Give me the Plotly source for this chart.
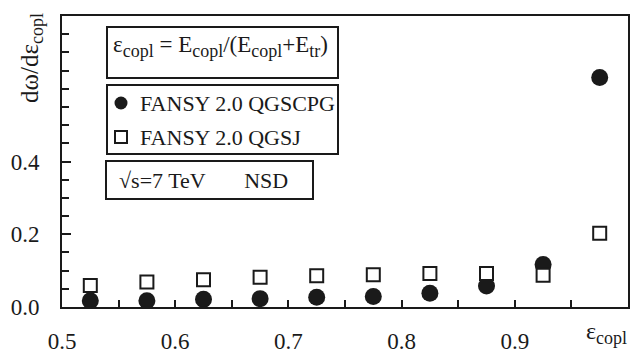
import plotly.graph_objects as go

# Coplanarity parameter bins and model predictions
eps_copl = [0.525, 0.575, 0.625, 0.675, 0.725, 0.775, 0.825, 0.875, 0.925, 0.975]
qgscpg = [0.017, 0.017, 0.021, 0.023, 0.027, 0.029, 0.038, 0.058, 0.117, 0.631]
qgsj = [0.059, 0.069, 0.075, 0.082, 0.086, 0.089, 0.092, 0.092, 0.087, 0.203]

x_ticks = [0.5, 0.6, 0.7, 0.8, 0.9]
x_ticktext = ["0.5", "0.6", "0.7", "0.8", "0.9"]
y_ticks = [0.0, 0.2, 0.4]
y_ticktext = ["0.0", "0.2", "0.4"]

W, H = 634, 353
L, R, T, B = 62, 6, 16, 46
PW, PH = W - L - R, H - T - B
FONT = "Liberation Serif"
INK = "#1a1a1a"


def px(x):
    return (x - L) / PW


def py(y):
    return (H - B - y) / PH


def sub(s, size=18):
    return f"<sub><span style='font-size:{size}px'>{s}</span></sub>"


fig = go.Figure()
fig.add_trace(go.Scatter(
    x=eps_copl, y=qgscpg, mode="markers", name="FANSY 2.0 QGSCPG",
    marker=dict(symbol="circle", size=17, color=INK, line=dict(width=0)),
))
fig.add_trace(go.Scatter(
    x=eps_copl, y=qgsj, mode="markers", name="FANSY 2.0 QGSJ",
    marker=dict(symbol="square", size=13, color="white", line=dict(width=2, color=INK)),
))

shapes = []
# framed text boxes
for x0, y0, x1, y1 in [(107, 27, 338, 78), (107, 85, 338, 154), (106, 161, 313, 199)]:
    shapes.append(dict(type="rect", xref="paper", yref="paper",
                       x0=px(x0), x1=px(x1), y0=py(y1), y1=py(y0),
                       line=dict(color=INK, width=2), fillcolor="white", layer="above"))
# legend symbols
shapes.append(dict(type="circle", xref="paper", yref="paper", xsizemode="pixel", ysizemode="pixel",
                   xanchor=px(121), yanchor=py(103), x0=-6.5, x1=6.5, y0=-6.5, y1=6.5,
                   fillcolor=INK, line=dict(width=0), layer="above"))
shapes.append(dict(type="rect", xref="paper", yref="paper", xsizemode="pixel", ysizemode="pixel",
                   xanchor=px(121), yanchor=py(137), x0=-6, x1=6, y0=-6, y1=6,
                   fillcolor="white", line=dict(width=2, color=INK), layer="above"))

txt = dict(family=FONT, size=22, color=INK)
annotations = [
    dict(x=px(111), y=py(47), xref="paper", yref="paper", xanchor="left", yanchor="middle",
         text=f"ε{sub('copl')} = E{sub('copl')}/(E{sub('copl')}+E{sub('tr')})",
         showarrow=False, font=dict(family=FONT, size=23, color=INK)),
    dict(x=px(138), y=py(103), xref="paper", yref="paper", xanchor="left", yanchor="middle",
         text="FANSY 2.0 QGSCPG", showarrow=False, font=txt),
    dict(x=px(138), y=py(137), xref="paper", yref="paper", xanchor="left", yanchor="middle",
         text="FANSY 2.0 QGSJ", showarrow=False, font=txt),
    dict(x=px(117), y=py(180), xref="paper", yref="paper", xanchor="left", yanchor="middle",
         text="√s=7 TeV" + "\u00a0" * 7 + "NSD", showarrow=False, font=txt),
    dict(x=px(606), y=py(333), xref="paper", yref="paper", xanchor="center", yanchor="middle",
         text=f"ε{sub('copl')}", showarrow=False, font=dict(family=FONT, size=24, color=INK)),
    dict(x=px(31), y=py(58), xref="paper", yref="paper", xanchor="center", yanchor="middle",
         text=f"dω/dε{sub('copl')}", textangle=-90, showarrow=False,
         font=dict(family=FONT, size=25, color=INK)),
]

fig.update_layout(
    width=W, height=H,
    margin=dict(l=L, r=R, t=T, b=B, autoexpand=False),
    paper_bgcolor="white", plot_bgcolor="white",
    font=dict(family=FONT, size=22, color=INK),
    showlegend=False,
    shapes=shapes, annotations=annotations,
    xaxis=dict(range=[0.5, 1.0], tickvals=x_ticks, ticktext=x_ticktext,
               ticks="inside", ticklen=7, tickwidth=2, tickcolor=INK,
               minor=dict(dtick=0.05, tick0=0.5, ticks="inside", ticklen=7, tickwidth=2, tickcolor=INK),
               showline=True, linecolor=INK, linewidth=2, mirror=True,
               showgrid=False, zeroline=False, ticklabelstandoff=12, automargin=False,
               tickfont=dict(family=FONT, size=23, color=INK)),
    yaxis=dict(range=[0.0, 0.8], tickvals=y_ticks, ticktext=y_ticktext,
               ticks="inside", ticklen=9, tickwidth=2, tickcolor=INK,
               minor=dict(dtick=0.05, tick0=0.0, ticks="inside", ticklen=7, tickwidth=2, tickcolor=INK),
               showline=True, linecolor=INK, linewidth=2, mirror=True,
               showgrid=False, zeroline=False, ticklabelstandoff=16, automargin=False,
               tickfont=dict(family=FONT, size=23, color=INK)),
)

fig.write_html("out.html")
